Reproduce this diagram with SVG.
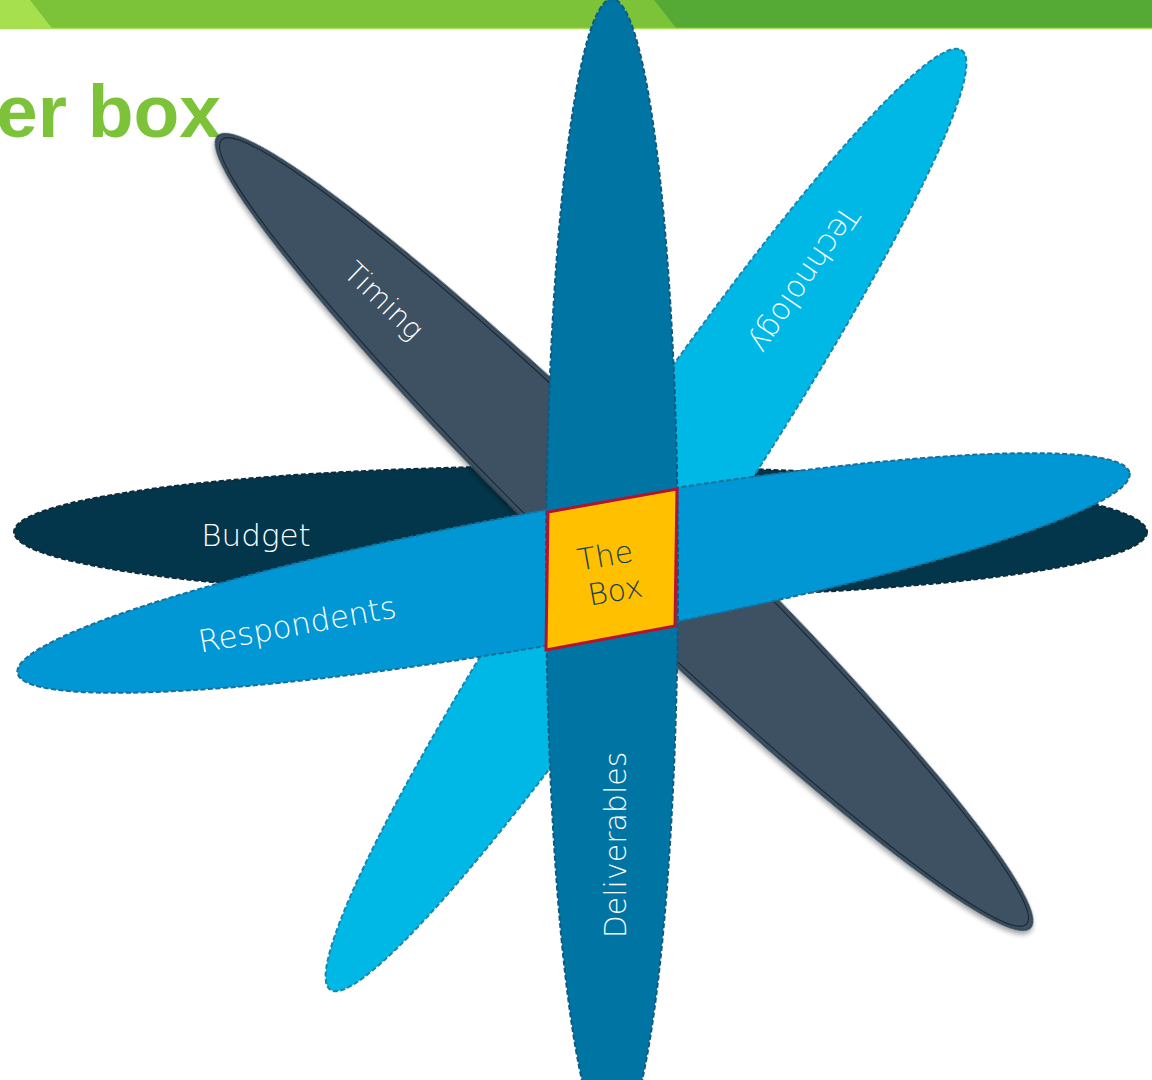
<svg xmlns="http://www.w3.org/2000/svg" width="1152" height="1080" viewBox="0 0 1152 1080">
  <style>
    .lbl { font-family: "DejaVu Sans", "Liberation Sans", sans-serif; font-weight: 300; fill: #ffffff; text-anchor: middle; }
    .dash { stroke-width: 2; stroke-dasharray: 5 2.5; }
    .title { font-family: "Liberation Sans", Arial, sans-serif; font-weight: bold; fill: #7DC33A; }
  </style>
  <defs>
    <filter id="shadow" x="-10%" y="-10%" width="120%" height="120%">
      <feDropShadow dx="2" dy="3" stdDeviation="2.5" flood-color="#000" flood-opacity="0.35"/>
    </filter>
  </defs>
  <rect x="0" y="0" width="1152" height="1080" fill="#ffffff"/>

  <!-- header band -->
  <g id="header">
    <rect x="0" y="0" width="1152" height="28" fill="#55AA35"/>
    <polygon points="30,0 654,0 676,28 52,28" fill="#7DC33A"/>
    <polygon points="0,0 30,0 52,28 0,28" fill="#A6E04F"/>
    <line x1="0" y1="28.5" x2="1152" y2="28.5" stroke="#A6E04F" stroke-width="1.5"/>
  </g>
  <text class="title" x="221" y="137" font-size="75" text-anchor="end">er box</text>

  <g id="budget">
    <ellipse cx="580.5" cy="532" rx="566.5" ry="66" fill="#03364A" stroke="#0E2B3A" class="dash"/>
    <text class="lbl" x="256" y="546" font-size="31">Budget</text>
  </g>

  <g id="timing">
    <g transform="translate(624 532) rotate(44.25)">
      <ellipse cx="0" cy="0" rx="567" ry="61" fill="#3D5162" stroke="#34495A" stroke-width="2" filter="url(#shadow)"/>
      <ellipse cx="0" cy="0" rx="562" ry="57" fill="none" stroke="#1C2935" stroke-width="1.2"/>
    </g>
    <text class="lbl" font-size="29" transform="translate(377 308) rotate(44)">Timing</text>
  </g>

  <g id="technology">
    <ellipse cx="0" cy="0" rx="566" ry="66" transform="translate(646 520) rotate(-56.1)" fill="#00B8E6" stroke="#1A84AE" class="dash"/>
    <text class="lbl" font-size="30.5" transform="translate(796 274) rotate(124)">Technology</text>
  </g>

  <g id="respondents">
    <ellipse cx="0" cy="0" rx="565" ry="67" transform="translate(573.5 573) rotate(-10.2)" fill="#0097D4" stroke="#17709A" class="dash"/>
    <text class="lbl" font-size="31" transform="translate(299 635) rotate(-10.2)">Respondents</text>
  </g>

  <g id="deliverables">
    <ellipse cx="612" cy="571" rx="66" ry="572" fill="#0075A4" stroke="#0D5A82" class="dash"/>
    <text class="lbl" font-size="30" transform="translate(626 845) rotate(-90)">Deliverables</text>
  </g>

  <g id="the-box">
    <polygon points="548,512 677,489 675,626 546,650" fill="#FFC000" stroke="#B5122F" stroke-width="3" stroke-linejoin="miter"/>
    <text class="lbl" font-size="30" style="fill:#163F5A" transform="translate(607 566) rotate(-10)">The</text>
    <text class="lbl" font-size="30" style="fill:#163F5A" transform="translate(617 601) rotate(-10)">Box</text>
  </g>
</svg>
